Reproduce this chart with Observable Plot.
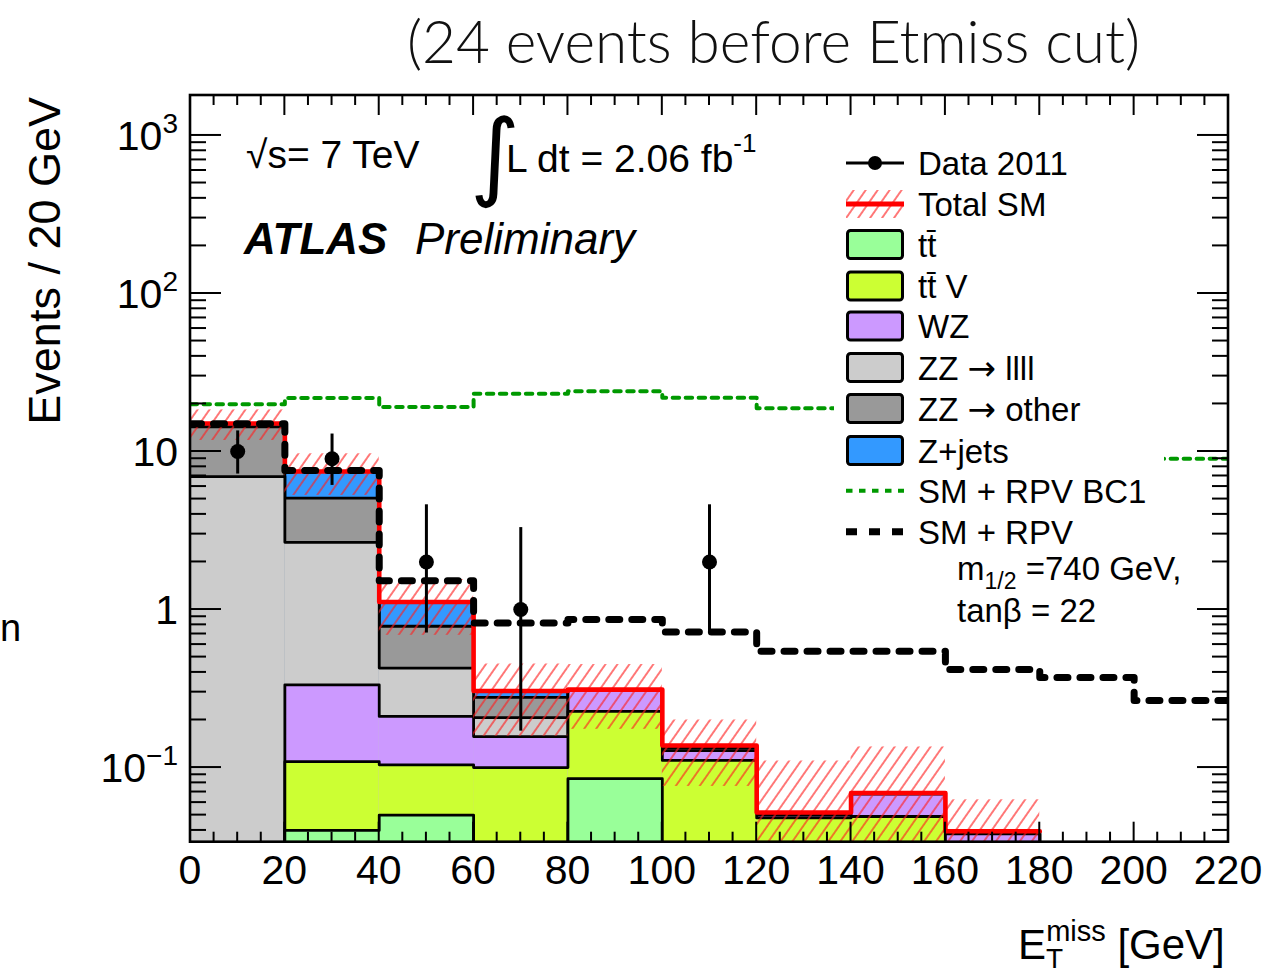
<!DOCTYPE html>
<html>
<head>
<meta charset="utf-8">
<script src="https://cdn.jsdelivr.net/npm/d3@7"></script>
<script src="https://cdn.jsdelivr.net/npm/@observablehq/plot@0.6"></script>
<style>
  html, body { margin: 0; padding: 0; background: #fff; }
  body { width: 1272px; height: 974px; overflow: hidden; position: relative; }
  #title { height: 92px; position: relative; }
  #title span {
    position: absolute; left: 407px; top: 5px;
    font-family: Lato, "Open Sans", sans-serif; font-weight: 300;
    font-size: 58.5px; white-space: nowrap; color: #111;
  }
  #chart svg { display: block; }
</style>
</head>
<body>
<div id="title"><span>(24 events before Etmiss cut)</span></div>
<div id="chart"></div>
<script>
// ---- Binning: E_T^miss bins of 20 GeV, lower edges ----
const binLo = [0, 20, 40, 60, 80, 100, 120, 140, 160, 180, 200];
const binWidth = 20;

// ---- SM background expectations per bin (events / 20 GeV), stacked bottom-up ----
const ttbar   = [0,    0.040, 0.050,  0,     0.085,  0,     0,     0,     0,      0, 0];
const ttV     = [0,    0.069, 0.054,  0.100, 0.1415, 0.111, 0.048, 0.049, 0,      0, 0];
const wz      = [0,    0.225, 0.1065, 0.057, 0.085,  0.017, 0.002, 0.019, 0.038,  0, 0];
const zzLLLL  = [6.94, 2.33,  0.2155, 0.050, 0,      0.005, 0.001, 0.001, 0.0015, 0, 0];
const zzOther = [7.4,  2.40,  0.358,  0.071, 0,      0.005, 0.001, 0,     0,      0, 0];
const zJets   = [0.7,  2.41,  0.333,  0.027, 0,      0,     0,     0,     0,      0, 0];

// Total SM uncertainty (hatched band half-width)
const smErr   = [3.3, 2.2, 0.43, 0.147, 0.137, 0.062, 0.058, 0.066, 0.023, 0, 0];

// Signal + SM predictions
const rpvBC1  = [19.9, 21.8, 19.1, 23.2, 24.1, 21.9, 18.8, 16.0, 13.0, 10.5, 9.0];
const rpv740  = [15.0, 7.58, 1.52, 0.822, 0.864, 0.721, 0.544, 0.544, 0.417, 0.372, 0.266];

// Data 2011 (bin centres, counts, 68% Poisson interval)
const dataX  = [10, 30, 50, 70, 110];
const dataN  = [10, 9, 2, 1, 2];
const dataLo = [7.2, 6.1, 0.71, 0.17, 0.71];
const dataHi = [13.5, 12.9, 4.6, 3.3, 4.6];

// Axis ticks
const xTicks = [0, 20, 40, 60, 80, 100, 120, 140, 160, 180, 200, 220];
const yTickExp = [-1, 0, 1, 2, 3];
const xDomain = [0, 220];
const yDomain = [0.0337, 1790];

// Legend label parts: [text, isArrow]
const components = [
  {name: [["t\u0074\u0304"]],                               values: ttbar,   color: "#99ff99"},
  {name: [["t\u0074\u0304 V"]],                             values: ttV,     color: "#ccff33"},
  {name: [["WZ"]],                                          values: wz,      color: "#cc99ff"},
  {name: [["ZZ "], ["\u2192", true], [" llll"]],            values: zzLLLL,  color: "#cccccc"},
  {name: [["ZZ "], ["\u2192", true], [" other"]],           values: zzOther, color: "#999999"},
  {name: [["Z+jets"]],                                      values: zJets,   color: "#3399ff"}
];

// ---- derived tables ----
const FLOOR = 1e-4; // stands in for empty bins on the log axis (clipped away)
const nb = binLo.length;
const bins = binLo.map((lo, i) => ({i, lo, hi: lo + binWidth}));
let run = new Array(nb).fill(0);
const cumulative = components.map(c => (run = run.map((v, i) => v + c.values[i])));
const total = cumulative[cumulative.length - 1];

const stepPoints = vals => [
  ...binLo.map((lo, i) => ({x: lo, y: vals[i] > 0 ? vals[i] : FLOOR})),
  {x: binLo[nb - 1] + binWidth, y: vals[nb - 1] > 0 ? vals[nb - 1] : FLOOR}
];
const lastFilled = total.reduce((m, v, i) => (v > 0 ? i : m), 0);
const totalSteps = [
  ...binLo.slice(0, lastFilled + 1).map((lo, i) => ({x: lo, y: total[i]})),
  {x: binLo[lastFilled] + binWidth, y: total[lastFilled]}
];
const band = bins.filter(b => total[b.i] > 0).map(b => ({
  ...b, y1: Math.max(total[b.i] - smErr[b.i], FLOOR), y2: total[b.i] + smErr[b.i]
}));
const data = dataX.map((x, i) => ({x, n: dataN[i], lo: dataLo[i], hi: dataHi[i]}));

// ---- stack: each cumulative histogram filled then outlined, largest first ----
const stackMarks = [];
for (let k = cumulative.length - 1; k >= 0; k--) {
  const cum = cumulative[k];
  stackMarks.push(
    Plot.rect(bins, {
      x1: "lo", x2: "hi", y1: FLOOR, y2: d => (cum[d.i] > 0 ? cum[d.i] : FLOOR),
      fill: components[k].color, clip: true
    }),
    Plot.line(stepPoints(cum), {
      x: "x", y: "y", curve: "step-after", stroke: "#000", strokeWidth: 2.8, clip: true
    })
  );
}

const PAGE_TOP = 92;        // svg starts below the title block
const SVG_H = 974 - PAGE_TOP;

const plot = Plot.plot({
  width: 1272,
  height: SVG_H,
  marginTop: 95 - PAGE_TOP,
  marginBottom: SVG_H - (841.7 - PAGE_TOP),
  marginLeft: 190,
  marginRight: 44,
  style: {background: "#fff", overflow: "visible"},
  x: {domain: xDomain, axis: null},
  y: {type: "log", domain: yDomain, axis: null},
  marks: [
    ...stackMarks,
    Plot.rect(band, {x1: "lo", x2: "hi", y1: "y1", y2: "y2", fill: "url(#smHatch)", clip: true}),
    Plot.line(totalSteps, {x: "x", y: "y", curve: "step-after", stroke: "#ff0000", strokeWidth: 4.6, clip: true}),
    Plot.line(stepPoints(rpvBC1), {x: "x", y: "y", curve: "step-after", stroke: "#009900", strokeWidth: 4, strokeDasharray: "6.5,6.5", clip: true}),
    Plot.line(stepPoints(rpv740), {x: "x", y: "y", curve: "step-after", stroke: "#000", strokeWidth: 7, strokeDasharray: "11,12", clip: true}),
    Plot.ruleX(data, {x: "x", y1: "lo", y2: "hi", stroke: "#000", strokeWidth: 3}),
    Plot.dot(data, {x: "x", y: "n", r: 7.5, fill: "#000", stroke: "none"})
  ]
});
document.getElementById("chart").appendChild(plot);

// ---- hatch pattern for the SM uncertainty ----
const svg = d3.select(plot);
const defs = svg.insert("defs", ":first-child");
const pat = defs.append("pattern")
  .attr("id", "smHatch").attr("patternUnits", "userSpaceOnUse")
  .attr("width", 9.8).attr("height", 20)
  .attr("patternTransform", "rotate(35)");
pat.append("line").attr("x1", 1).attr("y1", -1).attr("x2", 1).attr("y2", 21)
  .attr("stroke", "#ff2020").attr("stroke-width", 1.2);

// ---- frame, inward ticks on all four sides ----
const X = plot.scale("x"), Y = plot.scale("y");
const sx = v => X.apply(v), sy = v => Y.apply(v);
const fx0 = sx(xDomain[0]), fx1 = sx(xDomain[1]);
const fyB = sy(yDomain[0]), fyT = sy(yDomain[1]);
const py = v => v - PAGE_TOP; // page y -> svg y

const axes = svg.append("g").attr("stroke", "#000").attr("fill", "none");
const tickLine = (x1, y1, x2, y2, w) =>
  axes.append("line").attr("x1", x1).attr("y1", y1).attr("x2", x2).attr("y2", y2).attr("stroke-width", w);

for (let v = xDomain[0]; v <= xDomain[1]; v += 5) {
  const major = v % 20 === 0;
  const L = major ? 20 : 10;
  tickLine(sx(v), fyB, sx(v), fyB - L, 2);
  tickLine(sx(v), fyT, sx(v), fyT + L, 2);
}
for (let e = -2; e <= 3; e++) {
  for (let m = 1; m <= 9; m++) {
    const v = m * Math.pow(10, e);
    if (v < yDomain[0] || v > yDomain[1]) continue;
    const L = m === 1 ? 31 : 16;
    tickLine(fx0, sy(v), fx0 + L, sy(v), 2);
    tickLine(fx1, sy(v), fx1 - L, sy(v), 2);
  }
}
axes.append("rect").attr("x", fx0).attr("y", fyT).attr("width", fx1 - fx0).attr("height", fyB - fyT)
  .attr("stroke-width", 2.6);

// ---- text helpers ----
const FONT = "'Liberation Sans', Arial, Helvetica, sans-serif";
const ARROW_FONT = "'DejaVu Sans', sans-serif";
const txt = (x, y, size, anchor = "start") =>
  svg.append("text").attr("x", x).attr("y", y).attr("font-size", size)
    .attr("font-family", FONT).attr("text-anchor", anchor).attr("fill", "#000");

// x tick labels
xTicks.forEach(v => txt(sx(v), py(884), 41, "middle").text(v));

// y tick labels
yTickExp.forEach(e => {
  const t = txt(178, sy(Math.pow(10, e)) + 15, 41, "end");
  if (e === 0) t.text("1");
  else if (e === 1) t.text("10");
  else {
    t.append("tspan").text("10");
    t.append("tspan").attr("font-size", 28).attr("dy", -17).text(String(e).replace("-", "\u2212"));
  }
});

// axis titles
txt(0, 0, 45, "end")
  .attr("transform", `translate(60,${py(97)}) rotate(-90)`)
  .text("Events / 20 GeV");

const xt = txt(1018, py(959), 42, "start");
xt.append("tspan").text("E");
xt.append("tspan").attr("font-size", 28).attr("dy", 9).text("T");
xt.append("tspan").attr("font-size", 29).attr("dx", -17).attr("dy", -27).text("miss");
xt.append("tspan").attr("dy", 18).text(" [GeV]");

// stray glyph at the left page edge
txt(0, py(641), 38).text("n");

// ---- in-frame annotations ----
txt(246, py(168), 39).text("\u221As= 7 TeV");
const lumi = txt(470, py(188), 39);
lumi.append("tspan").attr("font-family", "'DejaVu Sans', sans-serif").attr("font-size", 96).text("\u222B");
lumi.append("tspan").attr("x", 506).attr("y", py(172)).text("L dt = 2.06 fb");
lumi.append("tspan").attr("font-size", 26).attr("dy", -20).text("-1");
txt(244, py(254), 44).attr("font-weight", "bold").attr("font-style", "italic").text("ATLAS");
txt(415, py(254), 44).attr("font-style", "italic").text("Preliminary");

// ---- legend (white box over the plot area) ----
const lg = svg.append("g");
lg.append("rect").attr("x", 834).attr("y", py(138)).attr("width", 330).attr("height", 502).attr("fill", "#fff");
const sw0 = 846, sw1 = 904, textX = 918;
const rows = [163, 204, 244.5, 286, 326, 367.5, 408.5, 450.5, 490.7, 531.7].map(py);
const legendText = (i, parts) => {
  const t = txt(textX, rows[i] + 12, 33);
  parts.forEach(([s, arrow]) => {
    const ts = t.append("tspan").text(s);
    if (arrow) ts.attr("font-family", ARROW_FONT).attr("font-size", 34);
  });
  return t;
};

// Data 2011
lg.append("line").attr("x1", sw0).attr("x2", sw1).attr("y1", rows[0]).attr("y2", rows[0]).attr("stroke", "#000").attr("stroke-width", 3);
lg.append("circle").attr("cx", (sw0 + sw1) / 2).attr("cy", rows[0]).attr("r", 7).attr("fill", "#000");
legendText(0, [["Data 2011"]]);
// Total SM
lg.append("rect").attr("x", sw0).attr("y", rows[1] - 14).attr("width", sw1 - sw0).attr("height", 28).attr("fill", "url(#smHatch)");
lg.append("line").attr("x1", sw0).attr("x2", sw1).attr("y1", rows[1]).attr("y2", rows[1]).attr("stroke", "#ff0000").attr("stroke-width", 5);
legendText(1, [["Total SM"]]);
// stacked components
components.forEach((c, k) => {
  lg.append("rect").attr("x", sw0 + 1.5).attr("y", rows[2 + k] - 14).attr("width", sw1 - sw0 - 3).attr("height", 28)
    .attr("rx", 3).attr("fill", c.color).attr("stroke", "#000").attr("stroke-width", 3);
  legendText(2 + k, c.name);
});
// signal lines
lg.append("line").attr("x1", sw0).attr("x2", sw1).attr("y1", rows[8]).attr("y2", rows[8])
  .attr("stroke", "#009900").attr("stroke-width", 4).attr("stroke-dasharray", "6.5,6.5");
legendText(8, [["SM + RPV BC1"]]);
lg.append("line").attr("x1", sw0).attr("x2", sw1).attr("y1", rows[9]).attr("y2", rows[9])
  .attr("stroke", "#000").attr("stroke-width", 7).attr("stroke-dasharray", "11,12");
legendText(9, [["SM + RPV"]]);
const m12 = txt(957, py(580), 33);
m12.append("tspan").text("m");
m12.append("tspan").attr("font-size", 23).attr("dy", 9).text("1/2");
m12.append("tspan").attr("dy", -9).text(" =740 GeV,");
txt(957, py(621.7), 33).text("tan\u03B2 = 22");
</script>
</body>
</html>
